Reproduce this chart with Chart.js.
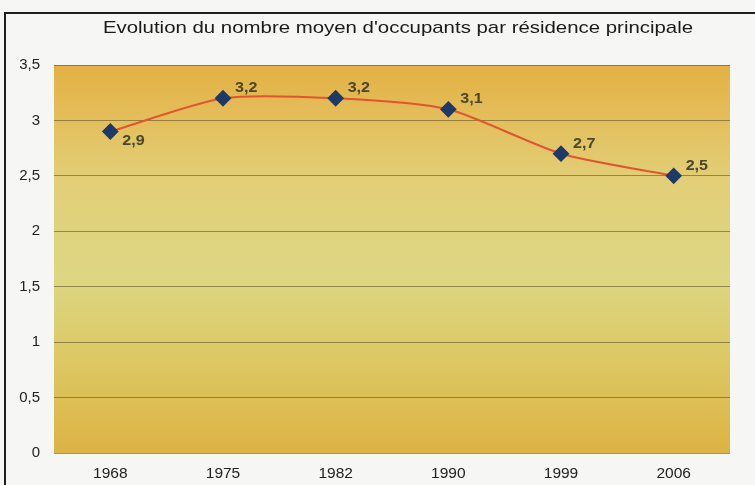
<!DOCTYPE html>
<html>
<head>
<meta charset="utf-8">
<script src="https://cdn.jsdelivr.net/npm/chart.js@4"></script>
<style>
  html, body { margin: 0; padding: 0; background: #f6f6f4; }
  #wrap { width: 755px; height: 485px; position: relative; }
</style>
</head>
<body>
<div id="wrap"><canvas id="chart" width="755" height="485"></canvas></div>
<script>
// data
const years = ['1968', '1975', '1982', '1990', '1999', '2006'];
const occupants = [2.9, 3.2, 3.2, 3.1, 2.7, 2.5];
const chartTitle = "Evolution du nombre moyen d'occupants par résidence principale";

// french decimal comma
function frNum(v) {
    return String(v).replace('.', ',');
}

// text in the scan is a bit wider than Arial, stretch it a little
function wideText(ctx, txt, x, y, sx) {
    ctx.save();
    ctx.translate(x, y);
    ctx.scale(sx, 1);
    ctx.fillText(txt, 0, 0);
    ctx.restore();
}

// frame, plot background and title
const decor = {
    id: 'decor',
    beforeDraw(chart) {
        const ctx = chart.ctx;
        const a = chart.chartArea;
        ctx.save();
        ctx.fillStyle = '#f6f6f4';
        ctx.fillRect(0, 0, chart.width, chart.height);
        // outer frame
        ctx.strokeStyle = '#1e1e1e';
        ctx.lineWidth = 2;
        ctx.beginPath();
        ctx.moveTo(5, chart.height);
        ctx.lineTo(5, 13);
        ctx.lineTo(chart.width, 13);
        ctx.stroke();
        // plot gradient
        const g = ctx.createLinearGradient(0, a.top, 0, a.bottom);
        g.addColorStop(0, '#e4b043');
        g.addColorStop(0.3, '#e2cf78');
        g.addColorStop(0.55, '#ddd683');
        g.addColorStop(0.8, '#dcc55e');
        g.addColorStop(1, '#dcb344');
        ctx.fillStyle = g;
        ctx.fillRect(a.left, a.top, a.right - a.left, a.bottom - a.top);
        // title
        ctx.fillStyle = '#1a1a1a';
        ctx.font = '17px "Liberation Sans", Arial, sans-serif';
        ctx.textAlign = 'center';
        ctx.textBaseline = 'middle';
        wideText(ctx, chartTitle, 398, 28, 1.2);
        ctx.restore();
    },
    afterDatasetsDraw(chart) {
        // value labels next to the diamonds
        const ctx = chart.ctx;
        const meta = chart.getDatasetMeta(0);
        ctx.save();
        ctx.fillStyle = '#48482f';
        ctx.font = 'bold 14px "Liberation Sans", Arial, sans-serif';
        ctx.textAlign = 'left';
        ctx.textBaseline = 'middle';
        meta.data.forEach((pt, i) => {
            const dy = i === 0 ? 10 : -10;
            wideText(ctx, frNum(occupants[i]), pt.x + 12, pt.y + dy, 1.15);
        });
        ctx.restore();
    }
};

const data = {
    labels: years,
    datasets: [{
        data: occupants,
        borderColor: '#e0552f',
        borderWidth: 2,
        tension: 0.22,
        pointStyle: 'rectRot',
        pointRadius: 7,
        pointHoverRadius: 7,
        pointBackgroundColor: '#1e3a68',
        pointBorderColor: '#1e3a68'
    }]
};

const config = {
    type: 'line',
    data,
    plugins: [decor],
    options: {
        responsive: false,
        animation: false,
        layout: {
            padding: { top: 65, right: 25, left: 0, bottom: 0 }
        },
        plugins: {
            legend: { display: false },
            title: { display: false },
            tooltip: { enabled: false }
        },
        scales: {
            x: {
                offset: true,
                grid: { display: false, drawTicks: false },
                border: { display: false },
                ticks: {
                    padding: 11,
                    color: '#222',
                    font: { size: 15.5, family: '"Liberation Sans", Arial, sans-serif' }
                },
                afterFit(scale) { scale.height = 32; }
            },
            y: {
                min: 0,
                max: 3.5,
                grid: { color: 'rgba(95, 85, 40, 0.6)', drawTicks: false },
                border: { display: false },
                ticks: {
                    stepSize: 0.5,
                    padding: 14,
                    color: '#222',
                    font: { size: 15, family: '"Liberation Sans", Arial, sans-serif' },
                    callback: (v) => frNum(v)
                },
                afterFit(scale) { scale.width = 54; }
            }
        }
    }
};

const occChart = new Chart(document.getElementById('chart'), config);
</script>
</body>
</html>
